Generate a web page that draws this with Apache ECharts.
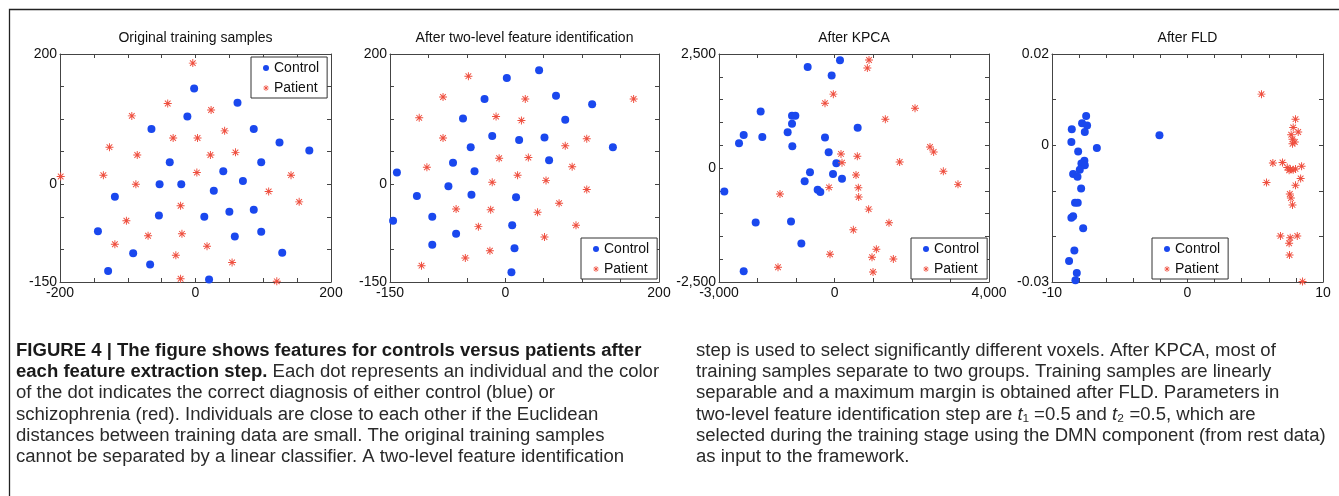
<!DOCTYPE html>
<html><head><meta charset="utf-8">
<script src="https://cdn.jsdelivr.net/npm/echarts@6/dist/echarts.min.js"></script>
<style>html,body{margin:0;padding:0;background:#fff}#c{width:1339px;height:496px}</style>
</head><body><div id="c"></div>
<script>
// ---------- data ----------
const titles = ['Original training samples', 'After two-level feature identification', 'After KPCA', 'After FLD'];
const seriesNames = ['Control', 'Patient'];

const ctrl1 = [[-2,147],[62,125],[-12,104],[-65,85],[86,85],[124,64],[168,52],[-38,34],[97,34],[41,20],[70,5],[-53,0],[-21,0],[27,-10],[-119,-19],[-54,-48],[13,-50],[50,-42],[86,-39],[-144,-72],[97,-73],[58,-80],[-92,-106],[128,-105],[-67,-123],[-129,-133],[20,-146]];
const pat1 = [[-4,186],[-41,124],[23,114],[-94,105],[43,82],[-33,71],[3,71],[-127,57],[-86,45],[22,45],[59,49],[2,18],[-136,14],[-199,12],[141,14],[-88,0],[108,-11],[153,-27],[-22,-33],[-102,-56],[-70,-79],[-20,-76],[-119,-92],[17,-95],[-29,-109],[54,-120],[-22,-145],[120,-149]];

const ctrl2 = [[44,175],[2,163],[66,136],[-27,131],[113,123],[-55,101],[78,99],[-17,74],[18,68],[51,72],[-45,57],[140,57],[-68,33],[57,37],[-141,18],[-40,20],[-74,-3],[-115,-18],[-44,-16],[14,-20],[-95,-50],[-146,-56],[9,-63],[-64,-76],[-95,-93],[12,-98],[8,-135]];
const pat2 = [[-48,166],[-81,134],[26,131],[167,131],[-112,102],[-12,104],[21,98],[-81,71],[106,70],[78,59],[-8,40],[30,41],[-102,26],[87,27],[16,14],[-17,3],[53,6],[106,-8],[-64,-38],[-19,-39],[70,-29],[42,-43],[-35,-65],[92,-63],[51,-81],[-20,-102],[-52,-113],[-109,-125]];

const ctrl3 = [[137,2361],[-701,2214],[-79,2031],[-1920,1239],[-1107,1144],[-1021,1144],[-1107,968],[595,880],[-1220,785],[-2360,726],[-1877,682],[-252,667],[-2481,543],[-1099,477],[-157,345],[42,103],[-641,-95],[-44,-132],[-779,-293],[189,-234],[-442,-476],[-373,-528],[-2862,-513],[-2049,-1195],[-1133,-1173],[-865,-1657],[-2360,-2265]];
const pat3 = [[889,2368],[846,2192],[-36,1620],[-252,1422],[2082,1312],[1312,1070],[2470,462],[2565,352],[163,308],[586,257],[189,117],[1684,132],[2816,-73],[552,-154],[3196,-359],[-148,-425],[612,-432],[-1419,-572],[621,-638],[880,-902],[1407,-1202],[483,-1356],[1079,-1781],[-122,-1891],[967,-1957],[1520,-1994],[-1470,-2177],[993,-2280]];

const ctrl4 = [[-7.48,0.0064],[-7.78,0.0048],[-7.41,0.0043],[-8.54,0.0035],[-7.58,0.0029],[-2.07,0.0022],[-8.57,0.0007],[-6.69,-0.0006],[-8.07,-0.0014],[-7.61,-0.0034],[-7.83,-0.004],[-7.58,-0.0044],[-7.95,-0.0054],[-8.44,-0.0063],[-8.12,-0.0069],[-7.85,-0.0095],[-8.3,-0.0126],[-8.1,-0.0126],[-8.44,-0.0156],[-8.57,-0.0159],[-7.7,-0.0182],[-8.35,-0.0231],[-8.74,-0.0254],[-8.17,-0.028],[-8.27,-0.0296]];
const pat4 = [[5.46,0.0112],[7.97,0.0057],[7.8,0.0039],[8.17,0.0029],[7.65,0.0023],[7.75,0.0013],[7.92,0.0007],[7.75,0.0003],[6.3,-0.0039],[7.01,-0.0038],[7.36,-0.0049],[7.6,-0.0053],[7.8,-0.0054],[8.42,-0.0046],[7.5,-0.0055],[7.97,-0.0052],[5.83,-0.0082],[8.35,-0.0073],[7.97,-0.0088],[7.55,-0.0107],[7.63,-0.0116],[7.75,-0.0131],[6.86,-0.0199],[7.58,-0.0203],[8.1,-0.0199],[7.5,-0.0215],[7.53,-0.0241],[8.49,-0.0299]];

const xTickLabels1 = [-200, 0, 200], yTickLabels1 = [-150, 0, 200];
const xTickLabels2 = [-150, 0, 200], yTickLabels2 = [-150, 0, 200];
const xTickLabels3 = [-3000, 0, 4000], yTickLabels3 = [-2500, 0, 2500];
const xTickLabels4 = [-10, 0, 10], yTickLabels4 = [-0.03, 0, 0.02];
const xIntervals = [50, 50, 1000, 2];
const yIntervals = [50, 50, 500, 0.01];

const captionLeft = [
  [['b','FIGURE 4 | The figure shows features for controls versus patients after']],
  [['b','each feature extraction step.'],['n',' Each dot represents an individual and the color']],
  [['n','of the dot indicates the correct diagnosis of either control (blue) or']],
  [['n','schizophrenia (red). Individuals are close to each other if the Euclidean']],
  [['n','distances between training data are small. The original training samples']],
  [['n','cannot be separated by a linear classifier. A two-level feature identification']]
];
const captionRight = [
  [['n','step is used to select significantly different voxels. After KPCA, most of']],
  [['n','training samples separate to two groups. Training samples are linearly']],
  [['n','separable and a maximum margin is obtained after FLD. Parameters in']],
  [['n','two-level feature identification step are '],['i','t'],['n','\u2081 =0.5 and '],['i','t'],['n','\u2082 =0.5, which are']],
  [['n','selected during the training stage using the DMN component (from rest data)']],
  [['n','as input to the framework.']]
];

// ---------- layout / style ----------
const FONT = '"Liberation Sans", Arial, Helvetica, sans-serif';
const BLUE = '#1a48ee';
const RED = '#ef4f3f';
const ASTERISK = 'path://M-0.6,-5L0.6,-5L0.6,5L-0.6,5Z M-5,-0.6L5,-0.6L5,0.6L-5,0.6Z M-3.95,-3.1L-3.1,-3.95L3.95,3.1L3.1,3.95Z M3.1,-3.95L3.95,-3.1L-3.1,3.95L-3.95,3.1Z';

const grids = [
  {left: 60, top: 54, width: 271, height: 228},
  {left: 390, top: 54, width: 269, height: 228},
  {left: 719, top: 54, width: 270, height: 228},
  {left: 1052, top: 54, width: 271, height: 228}
];
const legendPos = [
  {left: 251, top: 57}, {left: 581, top: 238}, {left: 911, top: 238}, {left: 1152, top: 238}
];
const xLabelSets = [xTickLabels1, xTickLabels2, xTickLabels3, xTickLabels4];
const yLabelSets = [yTickLabels1, yTickLabels2, yTickLabels3, yTickLabels4];
const ctrlSets = [ctrl1, ctrl2, ctrl3, ctrl4];
const patSets = [pat1, pat2, pat3, pat4];

function fmt(v) {
  return Number(v).toLocaleString('en-US', {maximumFractionDigits: 4});
}
function labelFormatter(list) {
  const span = Math.abs(list[list.length - 1] - list[0]);
  return v => {
    const t = list.find(t => Math.abs(t - v) < span * 1e-6);
    return t === undefined ? '' : fmt(t);
  };
}
const lineStyle = {color: '#444', width: 1};
function mkAxis(kind, i, pos, show) {
  const labels = kind === 'x' ? xLabelSets[i] : yLabelSets[i];
  return {
    type: 'value', gridIndex: i, position: pos,
    min: labels[0], max: labels[labels.length - 1],
    interval: kind === 'x' ? xIntervals[i] : yIntervals[i],
    axisLine: {show: true, onZero: false, lineStyle},
    axisTick: {show: true, inside: true, length: 4, lineStyle},
    splitLine: {show: false},
    axisLabel: {
      show: show, formatter: labelFormatter(labels), showMinLabel: true, showMaxLabel: true,
      fontFamily: FONT, fontSize: 14, color: '#111', margin: kind === 'x' ? 4 : 3
    }
  };
}

const xAxis = [], yAxis = [], series = [], legend = [], graphic = [];
for (let i = 0; i < 4; i++) {
  xAxis.push(mkAxis('x', i, 'bottom', true), mkAxis('x', i, 'top', false));
  yAxis.push(mkAxis('y', i, 'left', true), mkAxis('y', i, 'right', false));
  series.push({
    type: 'scatter', name: seriesNames[0], xAxisIndex: 2 * i, yAxisIndex: 2 * i,
    data: ctrlSets[i], symbol: 'circle', symbolSize: 8, clip: false,
    itemStyle: {color: BLUE, opacity: 1}, emphasis: {disabled: true}, silent: true
  });
  series.push({
    type: 'scatter', name: seriesNames[1], xAxisIndex: 2 * i, yAxisIndex: 2 * i,
    data: patSets[i], symbol: ASTERISK, symbolSize: 8, clip: false,
    itemStyle: {color: RED, opacity: 1}, emphasis: {disabled: true}, silent: true
  });
  legend.push({
    left: legendPos[i].left, top: legendPos[i].top, orient: 'vertical',
    data: [{name: seriesNames[0], icon: 'circle'}, {name: seriesNames[1], icon: ASTERISK}],
    itemWidth: 6, itemHeight: 6, itemGap: 4, padding: [3, 8, 2, 12],
    borderColor: '#333', borderWidth: 1, backgroundColor: '#fff', borderRadius: 0,
    selectedMode: false,
    textStyle: {fontFamily: FONT, fontSize: 14, color: '#111', lineHeight: 16}
  });
  graphic.push({
    type: 'text', x: grids[i].left + grids[i].width / 2, y: 38, silent: true,
    style: {text: titles[i], font: '14px ' + FONT, fill: '#111', align: 'center', verticalAlign: 'middle'}
  });
}

// frame
graphic.push({type: 'polyline', silent: true, shape: {points: [[9.5, 496], [9.5, 9.5], [1339, 9.5]]},
  style: {stroke: '#222', lineWidth: 1.3, fill: null}});

// caption
const CAP_SIZE = 18, CAP_SCALE = 1.03;
const rich = {
  b: {fontWeight: 'bold', fontSize: CAP_SIZE, fontFamily: FONT, fill: '#1a1a1a'},
  n: {fontSize: CAP_SIZE, fontFamily: FONT, fill: '#2a2a2a'},
  i: {fontStyle: 'italic', fontSize: CAP_SIZE, fontFamily: FONT, fill: '#2a2a2a'}
};
function addCaption(lines, x0) {
  lines.forEach((segs, k) => {
    graphic.push({
      type: 'text', x: x0, y: 351 + k * 21.2, scaleX: CAP_SCALE, silent: true,
      style: {
        text: segs.map(s => '{' + s[0] + '|' + s[1] + '}').join(''),
        rich, font: CAP_SIZE + 'px ' + FONT, align: 'left', verticalAlign: 'middle'
      }
    });
  });
}
addCaption(captionLeft, 16);
addCaption(captionRight, 696);

const chart = echarts.init(document.getElementById('c'), null, {renderer: 'canvas'});
chart.setOption({
  animation: false,
  backgroundColor: '#fff',
  grid: grids.map(g => Object.assign({outerBoundsMode: 'none', containLabel: false}, g)),
  xAxis, yAxis, series, legend, graphic
});
</script>
</body></html>
